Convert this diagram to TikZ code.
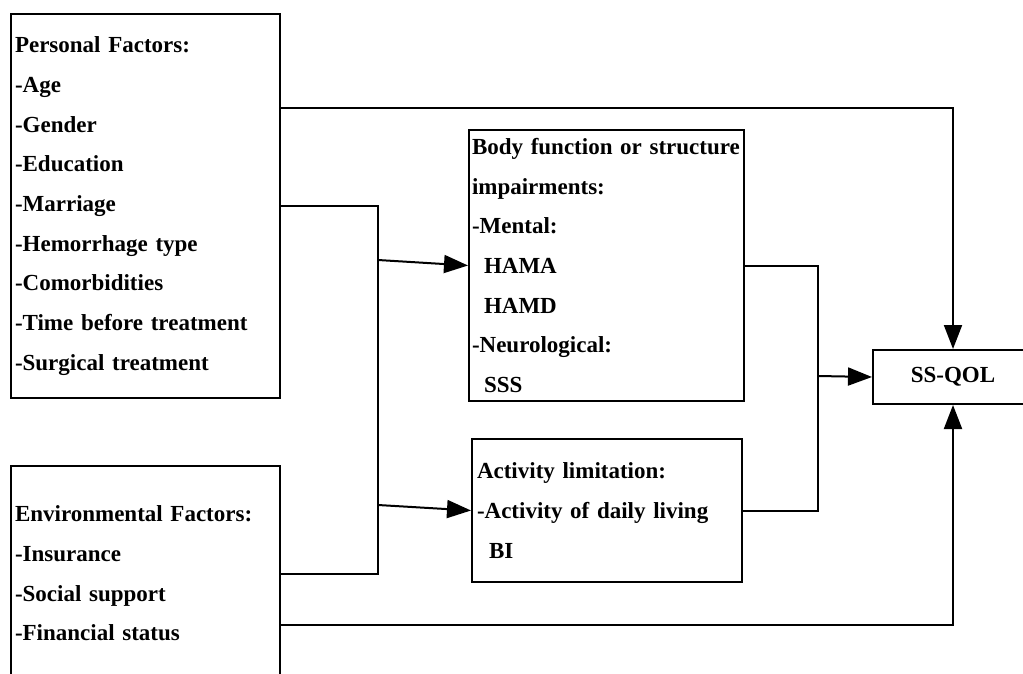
\documentclass[tikz,border=0pt]{standalone}
\usepackage{fontspec}
\setmainfont{Liberation Serif}
\usetikzlibrary{arrows.meta,calc}
\hyphenpenalty=10000
\exhyphenpenalty=10000

\begin{document}
\begin{tikzpicture}[x=1pt, y=-1pt, line width=2pt,
    box/.style={draw, rectangle, anchor=north west, align=left, inner xsep=4pt,
      font=\fontsize{23}{39.7}\selectfont\bfseries},
    arr/.style={-{Triangle[length=24pt,width=18pt]}}]
    \clip (0,0) rectangle (1023,674);
    % Nodes
    \node [box, text width=261pt, minimum height=384pt] (personal) at (10,13)
      {Personal~Factors:\\-Age\\-Gender\\-Education\\-Marriage\\-Hemorrhage~type\\-Comorbidities\\-Time~before~treatment\\-Surgical~treatment};
    \node [box, text width=261pt, minimum height=215pt] (env) at (10,465)
      {Environmental~Factors:\\-Insurance\\-Social~support\\-Financial~status};
    \node [box, inner xsep=3pt, text width=269pt, minimum height=271pt] (body) at (468,129)
      {\mbox{Body function or structure}\\impairments:\\-Mental:\\\hspace*{12pt}HAMA\\\hspace*{12pt}HAMD\\-Neurological:\\\hspace*{12pt}SSS};
    \node [box, inner xsep=5pt, text width=260pt, minimum height=143pt] (activity) at (471,438)
      {Activity~limitation:\\-Activity~of~daily~living\\\hspace*{12pt}BI};
    \node [box, minimum width=160pt, minimum height=54pt] (qol) at (872,349) {SS-QOL};
    \coordinate (ptop) at ($(personal.north east)+(0,95)$);
    \coordinate (ebot) at ($(env.north east)+(0,160)$);
    \coordinate (ljoin) at (378,205);
    \coordinate (rjoin) at (818,376);
    % Arrows
    \draw [arr] (ptop) -| (qol.north);
    \draw [arr] (ebot) -| (qol.south);
    \draw (personal.east) -| (ljoin |- env.east) -- (env.east);
    \draw [arr] ($(ljoin)+(0,55)$) -- (body.west);
    \draw [arr] ($(ljoin)+(0,300)$) -- (activity.west);
    \draw (body.east) -| (rjoin) |- (activity.east);
    \draw [arr] (rjoin) -- (qol.west);
  \end{tikzpicture}
\end{document}
